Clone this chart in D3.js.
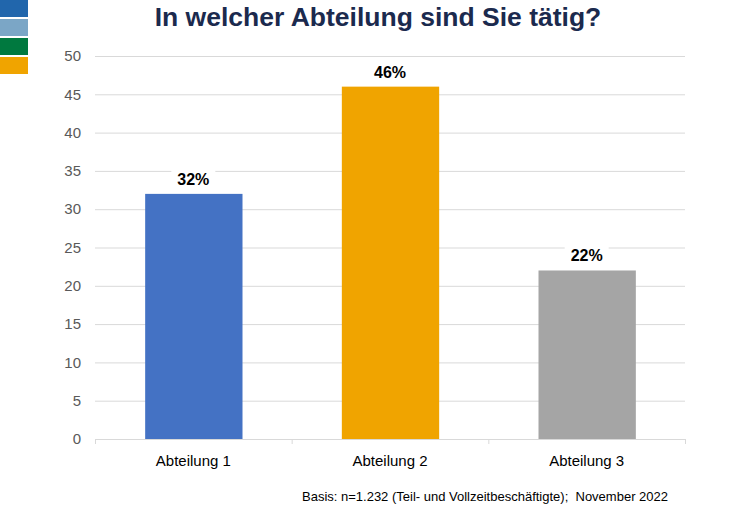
<!DOCTYPE html>
<html>
<head>
<meta charset="utf-8">
<script src="https://cdn.jsdelivr.net/npm/d3@7"></script>
<style>
  body { margin: 0; background: #fff; }
  svg { display: block; font-family: "Liberation Sans", Arial, sans-serif; }
</style>
</head>
<body>
<div id="chart"></div>
<script>
const categories = ['Abteilung 1', 'Abteilung 2', 'Abteilung 3'];
const values = [32, 46, 22];
const barColors = ['#4472C4', '#F0A400', '#A5A5A5'];
const yTicks = [0, 5, 10, 15, 20, 25, 30, 35, 40, 45, 50];
const legendColors = ['#2166AC', '#7BA6C6', '#00793F', '#F0A400'];

const width = 756;
const height = 529;
const margin = {top: 56, right: 71, bottom: 90, left: 95};

const svg = d3.select('#chart')
  .append('svg')
  .attr('width', width)
  .attr('height', height);

// corner colour blocks
svg.append('g')
  .selectAll('rect')
  .data(legendColors)
  .enter()
  .append('rect')
  .attr('x', 0)
  .attr('y', (d, i) => i * 19)
  .attr('width', 28)
  .attr('height', 17)
  .attr('fill', d => d);

svg.append('text')
  .attr('x', 378)
  .attr('y', 26)
  .attr('text-anchor', 'middle')
  .attr('font-size', 26.5)
  .attr('font-weight', 'bold')
  .attr('fill', '#1B2A4E')
  .text('In welcher Abteilung sind Sie tätig?');

const x = d3.scaleBand()
  .domain(categories)
  .range([margin.left, width - margin.right])
  .paddingInner(0.5)
  .paddingOuter(0.25);

const y = d3.scaleLinear()
  .domain([0, 50])
  .range([height - margin.bottom, margin.top]);

// gridlines
svg.append('g')
  .selectAll('line')
  .data(yTicks.filter(d => d > 0))
  .enter()
  .append('line')
  .attr('x1', margin.left)
  .attr('x2', width - margin.right)
  .attr('y1', d => y(d) + 0.5)
  .attr('y2', d => y(d) + 0.5)
  .attr('stroke', '#D9D9D9');

// y labels
svg.append('g')
  .selectAll('text')
  .data(yTicks)
  .enter()
  .append('text')
  .attr('x', 81)
  .attr('y', d => y(d))
  .attr('dy', '0.35em')
  .attr('text-anchor', 'end')
  .attr('font-size', 15)
  .attr('fill', '#595959')
  .text(d => d);

// bars
svg.append('g')
  .selectAll('rect')
  .data(values)
  .enter()
  .append('rect')
  .attr('x', (d, i) => x(categories[i]) + 1)
  .attr('y', d => y(d))
  .attr('width', x.bandwidth() - 1)
  .attr('height', d => y(0) - y(d))
  .attr('fill', (d, i) => barColors[i]);

// value labels with white background
const labels = svg.append('g')
  .selectAll('g')
  .data(values)
  .enter()
  .append('g')
  .attr('transform', (d, i) => `translate(${x(categories[i]) + x.bandwidth() / 2},${y(d) - 9})`);
labels.append('rect')
  .attr('x', -22)
  .attr('y', -16)
  .attr('width', 44)
  .attr('height', 21)
  .attr('fill', '#fff');
labels.append('text')
  .attr('text-anchor', 'middle')
  .attr('font-size', 16)
  .attr('font-weight', 'bold')
  .attr('fill', '#000')
  .text(d => d + '%');

// x axis line and ticks at band edges
const edges = [0, 1, 2, 3].map(i => margin.left + i * (width - margin.left - margin.right) / 3);
svg.append('line')
  .attr('x1', margin.left)
  .attr('x2', width - margin.right)
  .attr('y1', y(0) + 0.5)
  .attr('y2', y(0) + 0.5)
  .attr('stroke', '#D9D9D9');
svg.append('g')
  .selectAll('line')
  .data(edges)
  .enter()
  .append('line')
  .attr('x1', d => d + 0.5)
  .attr('x2', d => d + 0.5)
  .attr('y1', y(0))
  .attr('y2', y(0) + 5)
  .attr('stroke', '#D9D9D9');

svg.append('g')
  .selectAll('text')
  .data(categories)
  .enter()
  .append('text')
  .attr('x', d => x(d) + x.bandwidth() / 2)
  .attr('y', y(0) + 27)
  .attr('text-anchor', 'middle')
  .attr('font-size', 15)
  .attr('fill', '#000')
  .text(d => d);

svg.append('text')
  .attr('x', 668)
  .attr('y', 501)
  .attr('text-anchor', 'end')
  .attr('font-size', 13)
  .attr('fill', '#000')
  .attr('xml:space', 'preserve')
  .text('Basis: n=1.232 (Teil- und Vollzeitbeschäftigte);  November 2022');
</script>
</body>
</html>
